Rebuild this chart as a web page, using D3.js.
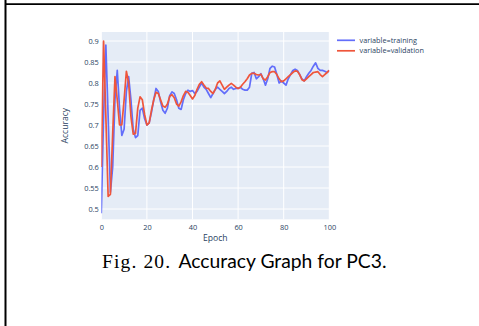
<!DOCTYPE html>
<html><head><meta charset="utf-8">
<script src="https://cdn.jsdelivr.net/npm/d3@7"></script>
<style>html,body{margin:0;padding:0;background:#fff;}svg{display:block;}</style>
</head><body>
<script>
const epochs = d3.range(0, 101);
const training = [0.49,0.72,0.89,0.72,0.54,0.60,0.76,0.83,0.74,0.675,
0.69,0.78,0.815,0.76,0.69,0.67,0.675,0.735,0.74,0.715,
0.70,0.705,0.73,0.76,0.787,0.78,0.755,0.735,0.728,0.74,
0.77,0.779,0.775,0.76,0.74,0.737,0.76,0.775,0.783,0.78,
0.782,0.775,0.78,0.79,0.80,0.79,0.785,0.775,0.765,0.775,
0.785,0.79,0.785,0.78,0.775,0.78,0.787,0.79,0.785,0.787,
0.787,0.79,0.785,0.783,0.783,0.79,0.823,0.825,0.81,0.815,
0.822,0.81,0.795,0.81,0.835,0.84,0.838,0.82,0.80,0.805,
0.80,0.795,0.81,0.82,0.83,0.833,0.83,0.82,0.81,0.805,
0.815,0.823,0.83,0.84,0.848,0.835,0.83,0.83,0.828,0.825,0.83];
const validation = [0.60,0.90,0.72,0.53,0.535,0.68,0.815,0.76,0.70,0.70,
0.76,0.828,0.80,0.72,0.678,0.68,0.74,0.767,0.76,0.725,
0.70,0.705,0.735,0.76,0.778,0.775,0.76,0.745,0.742,0.75,
0.768,0.772,0.765,0.75,0.745,0.755,0.77,0.78,0.778,0.77,
0.762,0.77,0.785,0.797,0.803,0.795,0.788,0.787,0.78,0.775,
0.785,0.80,0.805,0.795,0.785,0.79,0.795,0.799,0.795,0.79,
0.787,0.79,0.797,0.803,0.81,0.819,0.823,0.823,0.82,0.819,
0.821,0.81,0.807,0.815,0.825,0.827,0.827,0.82,0.81,0.803,
0.805,0.81,0.815,0.82,0.825,0.829,0.828,0.82,0.808,0.805,
0.81,0.815,0.82,0.825,0.826,0.827,0.82,0.815,0.82,0.825,0.83];
const xTicks = [0,20,40,60,80,100];
const yTicks = [0.5,0.55,0.6,0.65,0.7,0.75,0.8,0.85,0.9];
const seriesNames = ["variable=training","variable=validation"];
const seriesColors = ["#636efa","#EF553B"];

const W = 479, H = 326;
const svg = d3.select("body").append("svg").attr("width", W).attr("height", H);

// table cell borders
svg.append("line").attr("x1",5.5).attr("x2",5.5).attr("y1",0).attr("y2",H).attr("stroke","#000").attr("stroke-width",2);
svg.append("line").attr("x1",5).attr("x2",W).attr("y1",4.2).attr("y2",4.2).attr("stroke","#000").attr("stroke-width",1.8);

const pl = 101.3, pr = 329.3, pt = 32, pb = 219.3;
const x = d3.scaleLinear().domain([0,100]).range([pl, pr]);
const y = d3.scaleLinear().domain([0.5,0.9]).range([209, 41]);

svg.append("rect").attr("x",pl).attr("y",pt).attr("width",pr-pl).attr("height",pb-pt).attr("fill","#E5ECF6");

const font = "'Open Sans', sans-serif";
const tc = "#2a3f5f";

// grid
svg.append("g").selectAll("line").data(xTicks).join("line")
  .attr("x1",d=>x(d)).attr("x2",d=>x(d)).attr("y1",pt).attr("y2",pb)
  .attr("stroke","#fff").attr("stroke-width",1);
svg.append("g").selectAll("line").data(yTicks).join("line")
  .attr("x1",pl).attr("x2",pr).attr("y1",d=>y(d)).attr("y2",d=>y(d))
  .attr("stroke","#fff").attr("stroke-width",1);

// axes via d3 axis, styled like plotly
const xAxis = svg.append("g").attr("transform",`translate(0,${pb})`)
  .call(d3.axisBottom(x).tickValues(xTicks).tickSize(0).tickPadding(5).tickFormat(d3.format("d")));
const yAxis = svg.append("g").attr("transform",`translate(${pl},0)`)
  .call(d3.axisLeft(y).tickValues(yTicks).tickSize(0).tickPadding(2.5).tickFormat(d=>String(+d.toFixed(2))));
[xAxis,yAxis].forEach(g=>{
  g.select(".domain").remove();
  g.selectAll("text").attr("fill",tc).attr("font-family",font).attr("font-size",7.4);
});

// axis titles
svg.append("text").attr("x",(pl+pr)/2).attr("y",241).attr("text-anchor","middle")
  .attr("font-family",font).attr("font-size",8.6).attr("fill",tc).text("Epoch");
svg.append("text").attr("transform",`translate(68,${(pt+pb)/2}) rotate(-90)`).attr("text-anchor","middle")
  .attr("font-family",font).attr("font-size",8.6).attr("fill",tc).text("Accuracy");

// lines
const line = d3.line().x((d,i)=>x(epochs[i])).y(d=>y(d));
const clip = svg.append("clipPath").attr("id","clip").append("rect")
  .attr("x",pl).attr("y",pt).attr("width",pr-pl).attr("height",pb-pt);
[training, validation].forEach((s,k)=>{
  svg.append("path").datum(s).attr("d",line).attr("fill","none")
    .attr("stroke",seriesColors[k]).attr("stroke-width",1.7).attr("stroke-linejoin","round")
    .attr("clip-path","url(#clip)");
});

// legend
const lg = svg.append("g");
seriesNames.forEach((n,k)=>{
  const ly = 40.3 + k*10.5;
  lg.append("line").attr("x1",337).attr("x2",355).attr("y1",ly).attr("y2",ly)
    .attr("stroke",seriesColors[k]).attr("stroke-width",1.7);
  lg.append("text").attr("x",359.5).attr("y",ly+2.6).attr("font-family",font)
    .attr("font-size",7.3).attr("fill",tc).text(n);
});

// caption
svg.append("text").attr("x",102).attr("y",267.5).attr("font-family","'Liberation Serif', 'Times New Roman', serif")
  .attr("font-size",19.5).attr("fill","#000").attr("textLength",68).attr("lengthAdjust","spacing").text("Fig. 20.");
svg.append("text").attr("x",178.5).attr("y",267.5).attr("font-family","Lato, 'Liberation Sans', sans-serif")
  .attr("font-size",18.5).attr("fill","#000").attr("textLength",208).attr("lengthAdjust","spacingAndGlyphs")
  .text("Accuracy Graph for PC3.");
</script>
</body></html>
